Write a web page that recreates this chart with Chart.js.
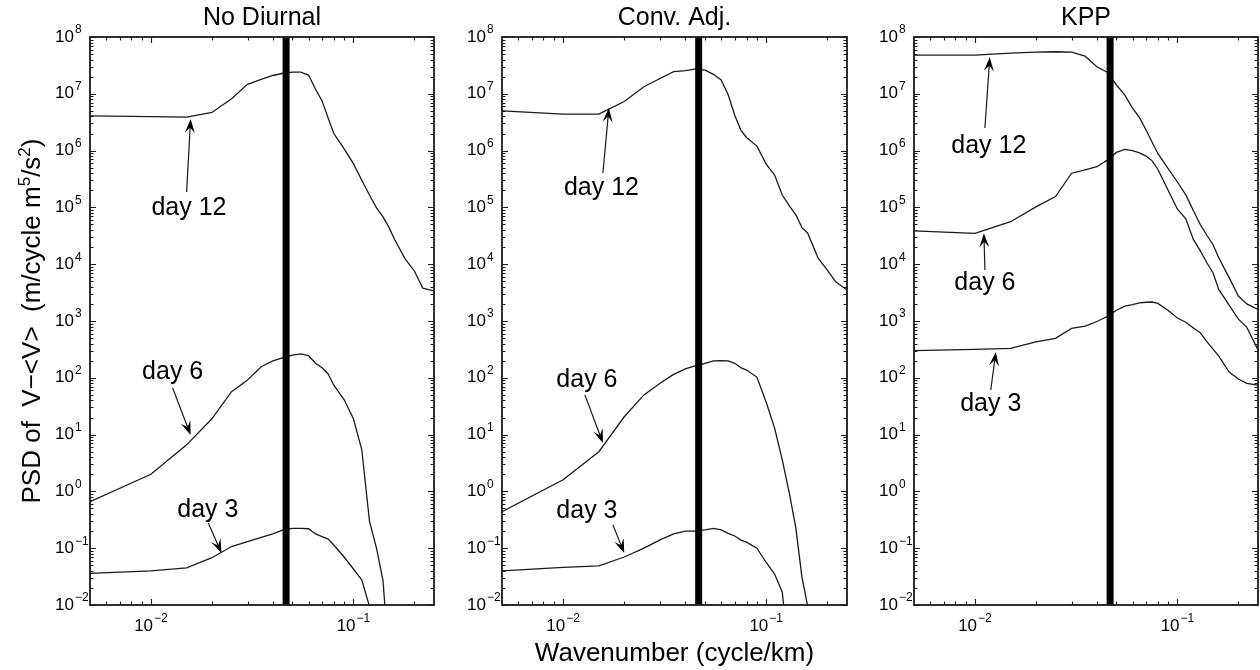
<!DOCTYPE html>
<html>
<head>
<meta charset="utf-8">
<script src="https://cdn.jsdelivr.net/npm/chart.js@4.4.0/dist/chart.umd.min.js"></script>
<style>
  html, body { margin: 0; padding: 0; background: #fff; }
  #wrap { position: relative; width: 1260px; height: 670px; }
  #wrap canvas { position: absolute; left: 0; top: 0; }
</style>
</head>
<body>
<div id="wrap">
  <canvas id="noDiurnal" width="1260" height="670"></canvas>
  <canvas id="convAdj" width="1260" height="670"></canvas>
  <canvas id="kpp" width="1260" height="670"></canvas>
</div>
<script>
// wavenumber (cycle/km) shared by every curve
const wavenumber = [0.005, 0.01, 0.015, 0.02, 0.025, 0.03, 0.035, 0.04, 0.045, 0.05, 0.055, 0.06, 0.065, 0.07,
  0.075, 0.08, 0.09, 0.1, 0.11, 0.12, 0.13, 0.14, 0.15, 0.16, 0.18, 0.2, 0.22, 0.25];

// No Diurnal
const noDiurnalDay12 = [4.1e6, 3.95e6, 3.9e6, 4.7e6, 8.2e6, 1.47e7, 1.8e7, 2.1e7, 2.3e7, 2.4e7, 2.4e7, 2.14e7, 1.2e7, 7.5e6,
  3.75e6, 2.0e6, 1.07e6, 5.9e5, 3.0e5, 1.65e5, 9.8e4, 6.8e4, 4.4e4, 2.7e4, 1.24e4, 7.6e3, 3.8e3, 3.4e3];
const noDiurnalDay6 = [0.66, 2.0, 6.6, 19, 57, 91, 157, 198, 226, 251, 263, 245, 180, 150,
  117, 74, 41, 19, 5.4, 0.3, 0.1, 0.027, 0.001, null, null, null, null, null];
const noDiurnalDay3 = [0.036, 0.040, 0.045, 0.068, 0.107, 0.13, 0.155, 0.178, 0.21, 0.224, 0.224, 0.22, 0.178, 0.16,
  0.145, 0.114, 0.07, 0.043, 0.0276, 0.0095, 0.001, null, null, null, null, null, null, null];

// Conv. Adj.
const convAdjDay12 = [5.0e6, 4.4e6, 4.4e6, 7.3e6, 1.33e7, 1.86e7, 2.45e7, 2.55e7, 2.75e7, 2.6e7, 2.2e7, 1.75e7, 9.6e6, 4.2e6,
  2.3e6, 1.7e6, 1.2e6, 5.8e5, 3.7e5, 1.65e5, 1.06e5, 7.4e4, 4.4e4, 3.55e4, 1.29e4, 7.9e3, 4.9e3, 3.5e3];
const convAdjDay6 = [0.44, 1.6, 5.0, 20.6, 50, 80, 115, 143, 163, 180, 198, 200, 198, 180,
  151, 137, 103, 37, 13, 3.6, 0.93, 0.226, 0.031, 0.0096, 0.001, null, null, null];
const convAdjDay3 = [0.040, 0.046, 0.049, 0.07, 0.1, 0.14, 0.178, 0.2, 0.2, 0.21, 0.224, 0.21, 0.183, 0.164,
  0.139, 0.128, 0.10, 0.056, 0.035, 0.017, 0.001, null, null, null, null, null, null, null];

// KPP
const kppDay12 = [4.8e7, 4.8e7, 5.2e7, 5.4e7, 5.5e7, 5.4e7, 4.6e7, 3.0e7, 2.4e7, 1.43e7, 9.5e6, 5.6e6, 3.8e6, 2.3e6,
  1.4e6, 8.9e5, 4.8e5, 2.8e5, 1.66e5, 8.7e4, 4.9e4, 3.2e4, 2.2e4, 1.3e4, 5.8e3, 2.75e3, 2.0e3, 1.6e3];
const kppDay6 = [3.85e4, 3.5e4, 5.6e4, 1.02e5, 1.55e5, 4.0e5, 4.6e5, 5.2e5, 6.8e5, 9.3e5, 1.05e6, 1.0e6, 9.1e5, 8.0e5,
  6.6e5, 4.7e5, 2.0e5, 9.3e4, 6.3e4, 2.7e4, 1.7e4, 1.05e4, 7.0e3, 3.6e3, 1.9e3, 1.08e3, 780, 310];
const kppDay3 = [300, 316, 330, 430, 495, 740, 810, 980, 1.2e3, 1.55e3, 1.83e3, 1.94e3, 2.08e3, 2.14e3,
  2.16e3, 2.04e3, 1.53e3, 1.13e3, 950, 755, 615, 430, 320, 240, 126, 95, 80, 74];

// thick vertical marker
const cutoffWavenumber = [0.0465];

const panelTitles = ['No Diurnal', 'Conv. Adj.', 'KPP'];
const xAxisTitle = 'Wavenumber (cycle/km)';
const yAxisTitle = [['PSD of  V\u2212<V>  (m/cycle m', false], ['5', true], ['/s', false], ['2', true], [')', false]];
const yTickExponents = [-2, -1, 0, 1, 2, 3, 4, 5, 6, 7, 8];
const xTickExponents = [-2, -1];
const minorMultipliers = [2, 3, 4, 5, 6, 7, 8, 9];

const FONT = '"Liberation Sans", Arial, Helvetica, sans-serif';
const INK = '#1a1a1a';

function font(size) {
    return size + 'px ' + FONT;
}

function expText(e) {
    return e < 0 ? '\u2212' + (-e) : String(e);
}

// "10" with a raised exponent; y is the middle of the "10"
function drawPower(ctx, x, y, e, centred) {
    const exp = expText(e);
    ctx.font = font(17);
    const wBase = ctx.measureText('10').width;
    ctx.font = font(12);
    const wExp = ctx.measureText(exp).width;
    const x0 = centred ? x - (wBase + 1 + wExp) / 2 : x;
    ctx.textAlign = 'left';
    ctx.textBaseline = 'middle';
    ctx.font = font(17);
    ctx.fillText('10', x0, y);
    ctx.font = font(12);
    ctx.fillText(exp, x0 + wBase + 1, y - 7);
}

function drawArrow(ctx, x1, y1, x2, y2) {
    const ang = Math.atan2(y2 - y1, x2 - x1);
    const len = 14, half = 5;
    const cx = Math.cos(ang), cy = Math.sin(ang);
    ctx.beginPath();
    ctx.moveTo(x1, y1);
    ctx.lineTo(x2 - cx * 7, y2 - cy * 7);
    ctx.stroke();
    const bx = x2 - cx * len, by = y2 - cy * len;
    const nx = -cy, ny = cx;
    ctx.beginPath();
    ctx.moveTo(x2, y2);
    ctx.lineTo(bx + nx * half, by + ny * half);
    ctx.lineTo(x2 - cx * len * 0.6, y2 - cy * len * 0.6);
    ctx.lineTo(bx - nx * half, by - ny * half);
    ctx.closePath();
    ctx.fill();
}

const decorPlugin = {
    id: 'decor',
    afterDraw(chart, args, opts) {
        const ctx = chart.ctx;
        const xs = chart.scales.x, ys = chart.scales.y;
        const a = chart.chartArea;
        ctx.save();
        ctx.strokeStyle = INK;
        ctx.fillStyle = '#000';

        // frame
        ctx.lineWidth = 1.8;
        ctx.strokeRect(a.left, a.top, a.right - a.left, a.bottom - a.top);

        // tick marks, pointing inward on all four sides
        ctx.lineWidth = 1.1;
        const xMajor = xTickExponents.map(e => Math.pow(10, e));
        const xMinor = [];
        [-3, -2, -1].forEach(e => minorMultipliers.forEach(m => {
            const v = m * Math.pow(10, e);
            if (v > xs.min && v < xs.max) xMinor.push(v);
        }));
        const yMajor = yTickExponents.map(e => Math.pow(10, e));
        const yMinor = [];
        yTickExponents.slice(0, -1).forEach(e => minorMultipliers.forEach(m => yMinor.push(m * Math.pow(10, e))));

        ctx.beginPath();
        [[xMajor, 6], [xMinor, 3.5]].forEach(([vals, len]) => vals.forEach(v => {
            const px = Math.round(xs.getPixelForValue(v)) + 0.5;
            ctx.moveTo(px, a.bottom); ctx.lineTo(px, a.bottom - len);
            ctx.moveTo(px, a.top); ctx.lineTo(px, a.top + len);
        }));
        [[yMajor, 6], [yMinor, 3.5]].forEach(([vals, len]) => vals.forEach(v => {
            const py = Math.round(ys.getPixelForValue(v)) + 0.5;
            ctx.moveTo(a.left, py); ctx.lineTo(a.left + len, py);
            ctx.moveTo(a.right, py); ctx.lineTo(a.right - len, py);
        }));
        ctx.stroke();

        // tick labels
        yTickExponents.forEach(e => drawPower(ctx, a.left - 35, ys.getPixelForValue(Math.pow(10, e)), e, false));
        xTickExponents.forEach(e => drawPower(ctx, xs.getPixelForValue(Math.pow(10, e)), a.bottom + 21, e, true));

        // panel title
        ctx.font = font(25);
        ctx.textAlign = 'center';
        ctx.textBaseline = 'alphabetic';
        ctx.fillText(opts.title, (a.left + a.right) / 2, 25);

        if (opts.xTitle) {
            ctx.font = font(26);
            ctx.fillText(xAxisTitle, (a.left + a.right) / 2, 661);
        }

        if (opts.yTitle) {
            ctx.save();
            ctx.translate(40, (a.top + a.bottom) / 2);
            ctx.rotate(-Math.PI / 2);
            let total = 0;
            yAxisTitle.forEach(([t, sup]) => { ctx.font = font(sup ? 17 : 26); total += ctx.measureText(t).width; });
            let x = -total / 2;
            ctx.textAlign = 'left';
            yAxisTitle.forEach(([t, sup]) => {
                ctx.font = font(sup ? 17 : 26);
                ctx.fillText(t, x, sup ? -10 : 0);
                x += ctx.measureText(t).width;
            });
            ctx.restore();
        }

        // day labels with arrows
        (opts.notes || []).forEach(n => {
            ctx.font = font(25);
            ctx.textAlign = 'center';
            ctx.textBaseline = 'middle';
            ctx.fillText(n.text, xs.getPixelForValue(n.at[0]), ys.getPixelForValue(n.at[1]));
            ctx.lineWidth = 1.2;
            drawArrow(ctx, xs.getPixelForValue(n.from[0]), ys.getPixelForValue(n.from[1]),
                xs.getPixelForValue(n.to[0]), ys.getPixelForValue(n.to[1]));
        });
        ctx.restore();
    }
};

function toPoints(values) {
    return wavenumber.map((k, i) => ({ x: k, y: values[i] }));
}

function makePanel(id, box, title, series, notes, extra) {
    const el = document.getElementById(id);
    if (!el) {
        console.error('canvas not found: ' + id);
        return;
    }
    const datasets = [{
        data: [{ x: cutoffWavenumber[0], y: 1e-2 }, { x: cutoffWavenumber[0], y: 1e8 }],
        borderColor: '#000',
        borderWidth: 7,
        pointRadius: 0
    }];
    series.forEach(s => datasets.push({
        label: s.label,
        data: toPoints(s.values),
        borderColor: INK,
        borderWidth: 1.3,
        pointRadius: 0,
        tension: 0,
        spanGaps: false
    }));
    new Chart(el.getContext('2d'), {
        type: 'line',
        data: { datasets: datasets },
        options: {
            responsive: false,
            animation: false,
            devicePixelRatio: 1,
            events: [],
            layout: { padding: { left: box.left, right: 1260 - box.right, top: 37, bottom: 65 } },
            scales: {
                x: { type: 'logarithmic', min: 0.005, max: 0.25, bounds: 'data', display: false },
                y: { type: 'logarithmic', min: 1e-2, max: 1e8, bounds: 'data', display: false }
            },
            plugins: {
                legend: { display: false },
                tooltip: { enabled: false },
                decor: Object.assign({ title: title, notes: notes }, extra)
            }
        },
        plugins: [decorPlugin]
    });
}

makePanel('noDiurnal', { left: 90, right: 434 }, panelTitles[0], [
    { label: 'day 12', values: noDiurnalDay12 },
    { label: 'day 6', values: noDiurnalDay6 },
    { label: 'day 3', values: noDiurnalDay3 }
], [
    { text: 'day 12', at: [0.0154, 9.8e4], from: [0.0150, 1.87e5], to: [0.0157, 3.6e6] },
    { text: 'day 6', at: [0.0128, 126], from: [0.0128, 66], to: [0.0157, 9.8] },
    { text: 'day 3', at: [0.0191, 0.47], from: [0.0192, 0.278], to: [0.0223, 0.082] }
], { yTitle: true });

makePanel('convAdj', { left: 502, right: 847 }, panelTitles[1], [
    { label: 'day 12', values: convAdjDay12 },
    { label: 'day 6', values: convAdjDay6 },
    { label: 'day 3', values: convAdjDay3 }
], [
    { text: 'day 12', at: [0.01545, 2.2e5], from: [0.0157, 4.0e5], to: [0.0168, 5.6e6] },
    { text: 'day 6', at: [0.0131, 91], from: [0.0128, 50], to: [0.0157, 7.1] },
    { text: 'day 3', at: [0.0131, 0.45], from: [0.0176, 0.256], to: [0.020, 0.082] }
], { xTitle: true });

makePanel('kpp', { left: 914, right: 1258 }, panelTitles[2], [
    { label: 'day 12', values: kppDay12 },
    { label: 'day 6', values: kppDay6 },
    { label: 'day 3', values: kppDay3 }
], [
    { text: 'day 12', at: [0.0117, 1.2e6], from: [0.0112, 2.5e6], to: [0.01184, 4.4e7] },
    { text: 'day 6', at: [0.0112, 4.7e3], from: [0.0112, 7.9e3], to: [0.01107, 3.5e4] },
    { text: 'day 3', at: [0.01197, 34.6], from: [0.01197, 61], to: [0.01268, 285] }
], {});
</script>
</body>
</html>
